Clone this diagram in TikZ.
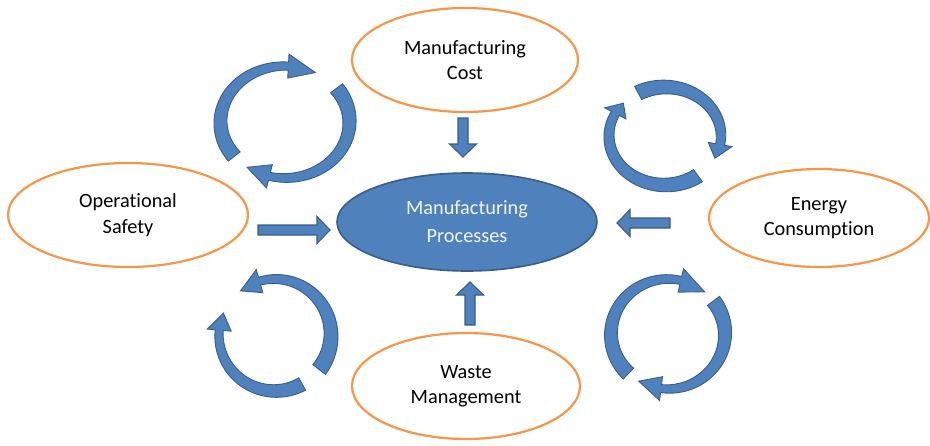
\documentclass[tikz,border=0pt]{standalone}
\usepackage{fontspec}
\setmainfont{Carlito}[Ligatures=NoCommon]
\usetikzlibrary{shapes.geometric}

\definecolor{ringorange}{HTML}{F79646}
\definecolor{coreblue}{HTML}{4F81BD}
\definecolor{coreedge}{HTML}{385D8A}
\definecolor{paletext}{HTML}{F2F6FB}

\tikzset{
  factor/.style={ellipse, draw=ringorange, line width=2.2pt, fill=white,
    align=center, inner sep=0pt, text=black,
    font=\fontsize{20.3}{25.5}\selectfont},
  core/.style={ellipse, draw=coreedge, line width=1.6pt, fill=coreblue,
    align=center, inner sep=0pt, text=paletext,
    font=\fontsize{20.3}{28}\selectfont},
  flowshape/.style={fill=coreblue, draw=coreedge, line width=1.1pt, line join=miter},
  ringshape/.style={fill=coreblue, draw=coreedge, line width=0.9pt, line join=miter},
}

% half width of the heads of the curved arrows
\def\headhw{12}

% Curved, tapering arrow along an ellipse.
% #1,#2 centre; #3,#4 radii of the middle line; #5 tail angle;
% #6 angle of the head base; #7 angle of the tip; #8 tail width; #9 width at the head
\newcommand\ringarrow[9]{%
  \filldraw[ringshape]
    plot[domain=#5:#6, samples=60, variable=\t]
      ({#1+(#3+0.5*(#8+(#9-#8)*(\t-(#5))/((#6)-(#5))))*cos(\t)},
       {#2-(#4+0.5*(#8+(#9-#8)*(\t-(#5))/((#6)-(#5))))*sin(\t)})
    -- ({#1+(#3+\headhw)*cos(#6)}, {#2-(#4+\headhw)*sin(#6)})
    -- ({#1+#3*cos(#7)}, {#2-#4*sin(#7)})
    -- ({#1+(#3-\headhw)*cos(#6)}, {#2-(#4-\headhw)*sin(#6)})
    -- plot[domain=#6:#5, samples=60, variable=\t]
      ({#1+(#3-0.5*(#8+(#9-#8)*(\t-(#5))/((#6)-(#5))))*cos(\t)},
       {#2-(#4-0.5*(#8+(#9-#8)*(\t-(#5))/((#6)-(#5))))*sin(\t)})
    -- cycle;}

% Straight block arrow: #1,#2 tail centre; #3 direction; #4 length
\newcommand\feedarrow[4]{%
  \begin{scope}[shift={(#1,#2)}, rotate=#3]
    \filldraw[flowshape] (0,-5) -- ({#4-13},-5) -- ({#4-13},-13.5) -- (#4,0)
      -- ({#4-13},13.5) -- ({#4-13},5) -- (0,5) -- cycle;
  \end{scope}}

\begin{document}
\begin{tikzpicture}[x=1pt, y=-1pt]
  \useasboundingbox (0,0) rectangle (930,445);

  % the process in the middle and the four factors around it
  \node[core, minimum width=260, minimum height=98] (proc) at (467,222)
    {Manufacturing\\Processes};
  \node[factor, minimum width=226, minimum height=104] (cost) at (465,60)
    {Manufacturing\\Cost};
  \node[factor, minimum width=240, minimum height=104] (safety) at (128,215)
    {Operational\\Safety};
  \node[factor, minimum width=220, minimum height=98] (energy) at (819,218)
    {Energy\\Consumption};
  \node[factor, minimum width=228, minimum height=106] (waste) at (466,386)
    {Waste\\Management};

  % block arrows pointing at the process
  \feedarrow{463}{118}{-90}{39}
  \feedarrow{258}{230}{0}{72}
  \feedarrow{670}{223}{180}{53}
  \feedarrow{470}{325}{90}{43}

  % cycles between the factors
  \ringarrow{285}{122}{64.5}{56}{218}{87}{62}{15}{8}
  \ringarrow{285}{122}{64.5}{56}{37}{-104}{-126}{15}{8}

  \ringarrow{665}{136}{56}{49}{118.6}{-10}{-27}{15}{9}
  \ringarrow{665}{136}{56}{49}{-54}{-207.5}{-222}{15}{9}

  \ringarrow{275}{335}{56}{56}{-38}{106}{128}{16}{8}
  \ringarrow{275}{335}{56}{56}{-61}{-185}{-203}{14}{8}

  \ringarrow{668}{334}{57}{55}{226}{77}{50}{15}{8}
  \ringarrow{668}{334}{57}{55}{37}{-97}{-121}{15}{8}
\end{tikzpicture}
\end{document}
